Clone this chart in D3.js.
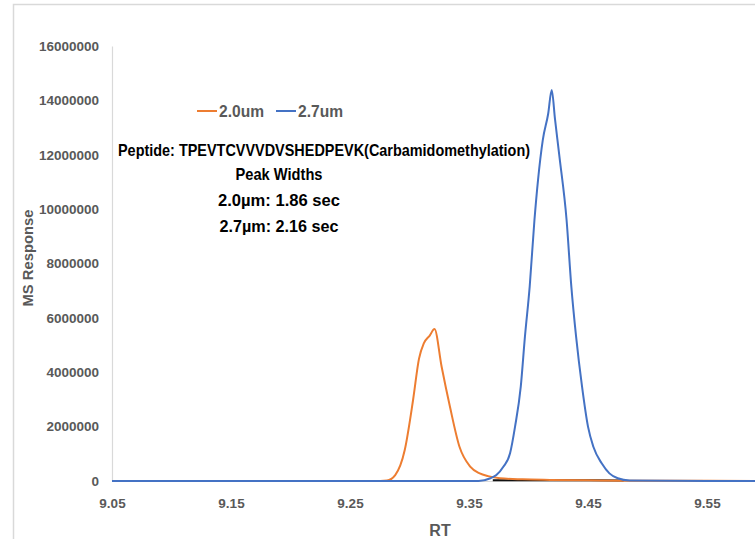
<!DOCTYPE html>
<html>
<head>
<meta charset="utf-8">
<script src="https://cdn.jsdelivr.net/npm/d3@7"></script>
<style>
  body { margin: 0; background: #fff; }
  svg { display: block; }
</style>
</head>
<body>
<div id="chart"></div>
<script>
/* DATA */
// retention time (min) and MS response for each column
const rt20 = [9.05, 9.27, 9.281, 9.288, 9.296, 9.303, 9.308, 9.312, 9.317, 9.321, 9.327, 9.334, 9.342, 9.351, 9.359, 9.366, 9.376, 9.395, 9.418, 9.45, 9.48, 9.55, 9.65];
const ms20 = [0, 0, 20000, 220000, 1140000, 2980000, 4500000, 5060000, 5350000, 5590000, 4200000, 2730000, 1260000, 530000, 280000, 180000, 100000, 60000, 40000, 25000, 10000, 5000, 0];

const rt27 = [9.05, 9.358, 9.368, 9.373, 9.379, 9.3845, 9.3887, 9.3935, 9.397, 9.401, 9.405, 9.408, 9.412, 9.4165, 9.4195, 9.4223, 9.426, 9.432, 9.436, 9.44, 9.445, 9.45, 9.4545, 9.4615, 9.468, 9.475, 9.485, 9.55, 9.65];
const ms27 = [0, 0, 100000, 220000, 530000, 1020000, 2000000, 3470000, 5310000, 7150000, 9600000, 11070000, 12540000, 13500000, 14380000, 13300000, 11930000, 9600000, 7150000, 5310000, 3470000, 2000000, 1260000, 650000, 280000, 100000, 20000, 0, 0];

const rtBase = [9.37, 9.40, 9.44, 9.48];
const msBase = [30000, 30000, 30000, 20000];

const xTicks = [9.05, 9.15, 9.25, 9.35, 9.45, 9.55];
const yTicks = [0, 2000000, 4000000, 6000000, 8000000, 10000000, 12000000, 14000000, 16000000];

const seriesNames = ["2.0um", "2.7um"];
const seriesColors = ["#ED7D31", "#4472C4"];

const noteLines = [
  "Peptide: TPEVTCVVVDVSHEDPEVK(Carbamidomethylation)",
  "Peak Widths",
  "2.0\u00b5m: 1.86 sec",
  "2.7\u00b5m: 2.16 sec"
];

/* LAYOUT */
const width = 755, height = 539;
const plot = { left: 112, top: 46, bottom: 481 };
const pxPerTenth = 119;
const noteWidths = [412, 87, 122, 119];
const noteY = [155.5, 179.5, 205.5, 231.5];

const svg = d3.select("#chart").append("svg")
  .attr("width", width)
  .attr("height", height)
  .style("font-family", "'Liberation Sans', Arial, sans-serif");

// chart area border (cropped on right/bottom)
svg.append("rect")
  .attr("x", 13.5).attr("y", 4.5)
  .attr("width", 900).attr("height", 700)
  .attr("fill", "none")
  .attr("stroke", "#d9d9d9")
  .attr("stroke-width", 1.5);

const xScale = d3.scaleLinear()
  .domain([9.05, 9.65])
  .range([plot.left, plot.left + pxPerTenth * 6]);

const yScale = d3.scaleLinear()
  .domain([0, 16000000])
  .range([plot.bottom, plot.top]);

// y axis
const yAxis = d3.axisLeft(yScale)
  .tickValues(yTicks)
  .tickFormat(d3.format("d"))
  .tickSize(0)
  .tickPadding(13);

const yAxisGroup = svg.append("g")
  .attr("transform", `translate(${plot.left}, 0)`)
  .call(yAxis);
yAxisGroup.select(".domain").attr("stroke", "#d9d9d9").attr("stroke-width", 1.2);
yAxisGroup.selectAll("text")
  .attr("fill", "#595959")
  .attr("font-size", 13.5)
  .attr("font-weight", "bold")
  .attr("font-family", "'Liberation Sans', Arial, sans-serif");

// x axis
const xAxis = d3.axisBottom(xScale)
  .tickValues(xTicks)
  .tickFormat(d3.format(".2f"))
  .tickSize(0)
  .tickPadding(17);

const xAxisGroup = svg.append("g")
  .attr("transform", `translate(0, ${plot.bottom})`)
  .call(xAxis);
xAxisGroup.select(".domain").attr("stroke", "#d9d9d9").attr("stroke-width", 1.2);
xAxisGroup.selectAll("text")
  .attr("fill", "#595959")
  .attr("font-size", 13.5)
  .attr("font-weight", "bold")
  .attr("font-family", "'Liberation Sans', Arial, sans-serif");

// axis titles
svg.append("text")
  .attr("x", 440).attr("y", 536)
  .attr("text-anchor", "middle")
  .attr("fill", "#595959")
  .attr("font-size", 16)
  .attr("font-weight", "bold")
  .text("RT");

svg.append("text")
  .attr("transform", `translate(33, 258) rotate(-90)`)
  .attr("text-anchor", "middle")
  .attr("fill", "#595959")
  .attr("font-size", 14)
  .attr("font-weight", "bold")
  .attr("textLength", 97)
  .attr("lengthAdjust", "spacingAndGlyphs")
  .text("MS Response");

// lines
const line = d3.line()
  .x(d => xScale(d[0]))
  .y(d => yScale(d[1]))
  .curve(d3.curveMonotoneX);

svg.append("clipPath").attr("id", "clip")
  .append("rect").attr("x", plot.left).attr("y", 0).attr("width", width - plot.left).attr("height", height);

const lines = svg.append("g").attr("clip-path", "url(#clip)");

lines.append("path")
  .datum(d3.zip(rtBase, msBase))
  .attr("fill", "none")
  .attr("stroke", "#111")
  .attr("stroke-width", 2)
  .attr("d", line);

lines.append("path")
  .datum(d3.zip(rt20, ms20))
  .attr("fill", "none")
  .attr("stroke", seriesColors[0])
  .attr("stroke-width", 2)
  .attr("d", line);

lines.append("path")
  .datum(d3.zip(rt27, ms27))
  .attr("fill", "none")
  .attr("stroke", seriesColors[1])
  .attr("stroke-width", 2)
  .attr("d", line);

// legend
const legend = svg.append("g").attr("transform", "translate(197, 111)");
const legendItems = legend.selectAll("g")
  .data(seriesNames)
  .join("g")
  .attr("transform", (d, i) => `translate(${i * 79}, 0)`);
legendItems.append("line")
  .attr("x1", 0).attr("x2", 20)
  .attr("stroke", (d, i) => seriesColors[i])
  .attr("stroke-width", 2);
legendItems.append("text")
  .attr("x", 22).attr("y", 6)
  .attr("fill", "#595959")
  .attr("font-size", 16)
  .attr("font-weight", "bold")
  .attr("textLength", 45)
  .attr("lengthAdjust", "spacingAndGlyphs")
  .text(d => d);

// annotation
svg.append("g")
  .selectAll("text")
  .data(noteLines)
  .join("text")
  .attr("x", (d, i) => i === 0 ? 118 : 279)
  .attr("y", (d, i) => noteY[i])
  .attr("text-anchor", (d, i) => i === 0 ? "start" : "middle")
  .attr("fill", "#000")
  .attr("font-size", 16.5)
  .attr("font-weight", "bold")
  .attr("textLength", (d, i) => noteWidths[i])
  .attr("lengthAdjust", "spacingAndGlyphs")
  .text(d => d);
</script>
</body>
</html>
